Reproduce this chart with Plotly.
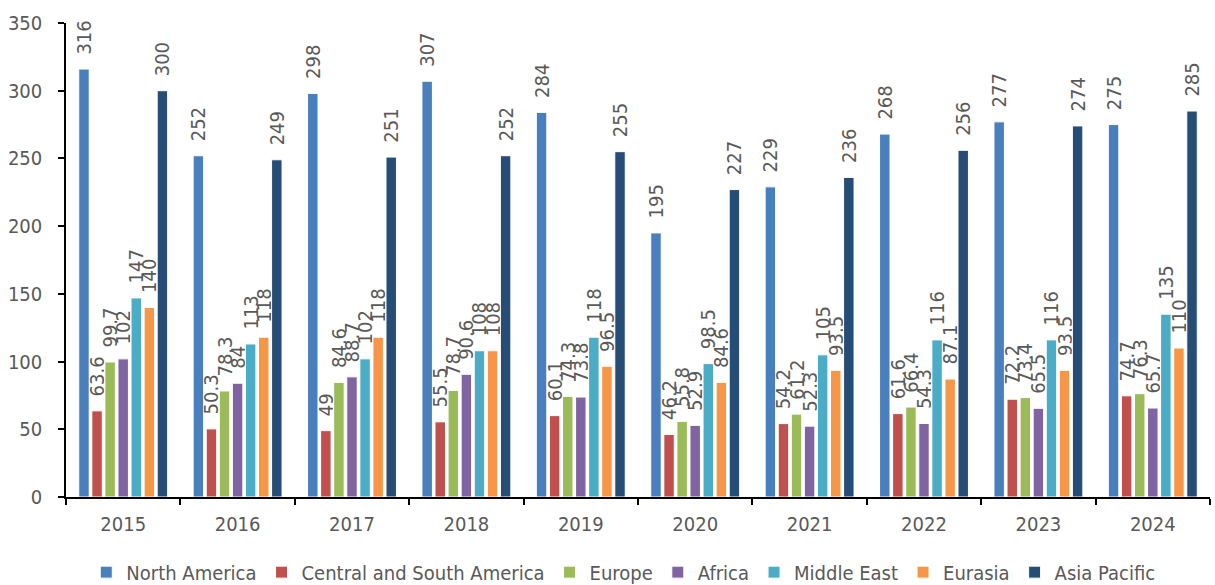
import plotly.graph_objects as go

years = ["2015", "2016", "2017", "2018", "2019", "2020", "2021", "2022", "2023", "2024"]

north_america = [316, 252, 298, 307, 284, 195, 229, 268, 277, 275]
central_south_america = [63.6, 50.3, 49, 55.5, 60.1, 46.2, 54.2, 61.6, 72.2, 74.7]
europe = [99.7, 78.3, 84.6, 78.7, 74.3, 55.8, 61.2, 66.4, 73.4, 76.3]
africa = [102, 84, 88.7, 90.6, 73.8, 52.9, 52.3, 54.3, 65.5, 65.7]
middle_east = [147, 113, 102, 108, 118, 98.5, 105, 116, 116, 135]
eurasia = [140, 118, 118, 108, 96.5, 84.6, 93.5, 87.1, 93.5, 110]
asia_pacific = [300, 249, 251, 252, 255, 227, 236, 256, 274, 285]

series = [
    ("North America", north_america, "#4A7FBE"),
    ("Central and South America", central_south_america, "#C0504D"),
    ("Europe", europe, "#9BBB59"),
    ("Africa", africa, "#8064A2"),
    ("Middle East", middle_east, "#4BACC6"),
    ("Eurasia", eurasia, "#F79646"),
    ("Asia Pacific", asia_pacific, "#264D76"),
]

FONT = "DejaVu Sans Condensed, sans-serif"
GREY = "#595959"
SIZE = 20

fig = go.Figure()
for name, values, color in series:
    fig.add_trace(go.Bar(
        name=name,
        x=years,
        y=values,
        marker=dict(color=color, line=dict(color="white", width=1)),
        # leading non-breaking spaces lift the rotated labels off the bar tops
        text=["\u00a0\u00a0" + f"{v:g}" for v in values],
        textposition="outside",
        textangle=-90,
        constraintext="none",
        cliponaxis=False,
        textfont=dict(family=FONT, size=SIZE, color=GREY),
    ))

fig.update_layout(
    barmode="group",
    bargap=0.2,
    bargroupgap=0.2,
    width=1215,
    height=585,
    margin=dict(l=66, r=5, t=23, b=88, autoexpand=False),
    paper_bgcolor="white",
    plot_bgcolor="white",
    font=dict(family=FONT, size=SIZE, color=GREY),
    showlegend=True,
    legend=dict(
        orientation="h",
        x=0.513,
        xanchor="center",
        xref="container",
        y=0.022,
        yanchor="middle",
        yref="container",
        font=dict(family=FONT, size=SIZE, color=GREY),
        itemwidth=30,
    ),
)

fig.update_xaxes(
    type="category",
    showline=True,
    linecolor="black",
    linewidth=1.5,
    ticks="outside",
    tickson="boundaries",
    ticklen=6,
    tickcolor="black",
    tickwidth=1.5,
    showgrid=False,
    ticklabelstandoff=8,
    tickfont=dict(family=FONT, size=SIZE, color=GREY),
)

fig.update_yaxes(
    range=[0, 350],
    dtick=50,
    showline=True,
    linecolor="black",
    linewidth=1.5,
    ticks="outside",
    ticklen=6,
    tickcolor="black",
    tickwidth=1.5,
    showgrid=False,
    zeroline=False,
    ticklabelstandoff=12,
    tickfont=dict(family=FONT, size=SIZE, color=GREY),
)

fig.write_html("out.html")
